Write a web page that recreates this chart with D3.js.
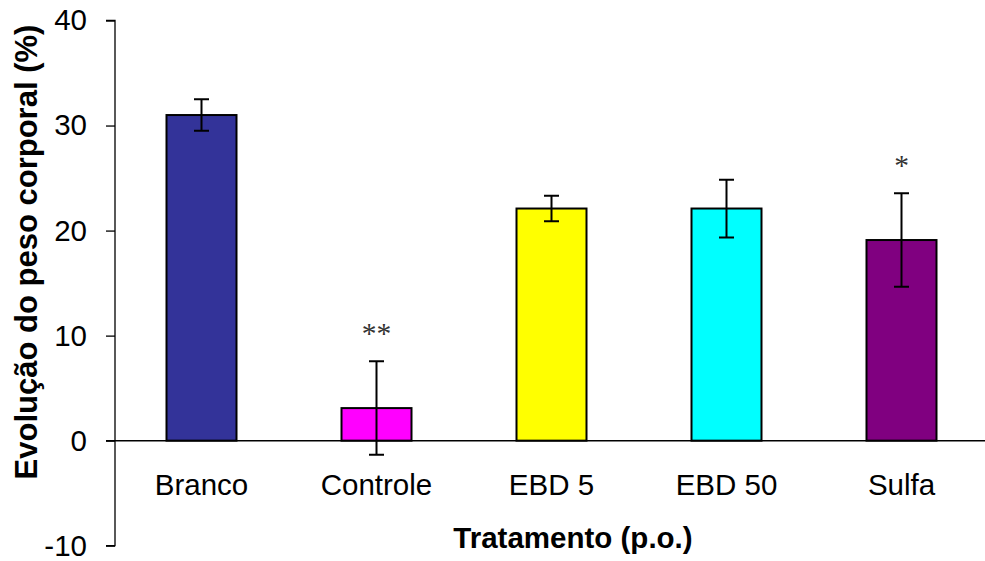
<!DOCTYPE html>
<html>
<head>
<meta charset="utf-8">
<script src="https://cdn.jsdelivr.net/npm/d3@7"></script>
<style>
  html, body { margin: 0; padding: 0; background: #fff; }
  svg { display: block; font-family: "Liberation Sans", Arial, sans-serif; }
</style>
</head>
<body>
<svg id="chart" width="985" height="561"></svg>
<script>
// Evolução do peso corporal por grupo de tratamento (média ± erro)
const categories = ["Branco", "Controle", "EBD 5", "EBD 50", "Sulfa"];
const means = [31.0, 3.1, 22.1, 22.1, 19.1];
const errors = [1.5, 4.45, 1.22, 2.75, 4.45];
const colors = ["#333399", "#ff00ff", "#ffff00", "#00ffff", "#800080"];
const marks = ["", "**", "", "", "*"];
const yTicks = [-10, 0, 10, 20, 30, 40];

const svg = d3.select("#chart");
const W = 985;
const fontSize = 29.5;

const y = d3.scaleLinear().domain([-10, 40]).range([545.7, 20.5]);
const x = d3.scaleBand().domain(categories).range([114, 989]).paddingInner(0.6).paddingOuter(0.3);

// Eixo Y
const yAxis = d3.axisLeft(y).tickValues(yTicks).tickSize(9).tickPadding(19).tickFormat(d => String(d));
const gy = svg.append("g").attr("transform", "translate(115,0)").call(yAxis);
gy.select(".domain").attr("stroke", "#000").attr("stroke-width", 1.3).attr("d", `M-9,${y(40)}H0V${y(-10)}H-9`);
gy.selectAll(".tick line").attr("stroke", "#000").attr("stroke-width", 1.3);
gy.selectAll(".tick text").attr("font-size", fontSize).attr("fill", "#000")
  .attr("font-family", "'Liberation Sans', Arial, sans-serif");

// Barras
svg.append("g").selectAll("rect").data(categories).join("rect")
  .attr("x", d => x(d))
  .attr("width", x.bandwidth())
  .attr("y", (d, i) => y(Math.max(0, means[i])))
  .attr("height", (d, i) => Math.abs(y(means[i]) - y(0)))
  .attr("fill", (d, i) => colors[i])
  .attr("stroke", "#000")
  .attr("stroke-width", 2);

// Linha do zero
svg.append("line")
  .attr("x1", 106).attr("x2", W)
  .attr("y1", y(0)).attr("y2", y(0))
  .attr("stroke", "#000").attr("stroke-width", 1.5);

// Barras de erro
const cap = 7.5;
const eg = svg.append("g").attr("stroke", "#000").attr("stroke-width", 2).attr("fill", "none");
categories.forEach((c, i) => {
  const cx = x(c) + x.bandwidth() / 2;
  const top = y(means[i] + errors[i]);
  const bot = y(means[i] - errors[i]);
  eg.append("path").attr("d", `M${cx},${top}V${bot}M${cx - cap},${top}H${cx + cap}M${cx - cap},${bot}H${cx + cap}`);
});

// Marcas de significância
svg.append("g").selectAll("text").data(categories).join("text")
  .attr("x", d => x(d) + x.bandwidth() / 2)
  .attr("y", (d, i) => y(means[i] + errors[i]) - 18)
  .attr("text-anchor", "middle")
  .attr("font-size", fontSize)
  .attr("font-family", "'Liberation Serif', 'Times New Roman', serif")
  .attr("fill", "#333")
  .text((d, i) => marks[i]);

// Rótulos das categorias
svg.append("g").selectAll("text").data(categories).join("text")
  .attr("x", d => x(d) + x.bandwidth() / 2)
  .attr("y", 495)
  .attr("text-anchor", "middle")
  .attr("font-size", fontSize)
  .attr("fill", "#000")
  .text(d => d);

// Títulos dos eixos
svg.append("text")
  .attr("x", 573).attr("y", 548)
  .attr("text-anchor", "middle")
  .attr("font-size", fontSize).attr("font-weight", "bold")
  .text("Tratamento (p.o.)");

svg.append("text")
  .attr("transform", "translate(37,252) rotate(-90)")
  .attr("text-anchor", "middle")
  .attr("font-size", 31).attr("font-weight", "bold")
  .text("Evolução do peso corporal (%)");
</script>
</body>
</html>
